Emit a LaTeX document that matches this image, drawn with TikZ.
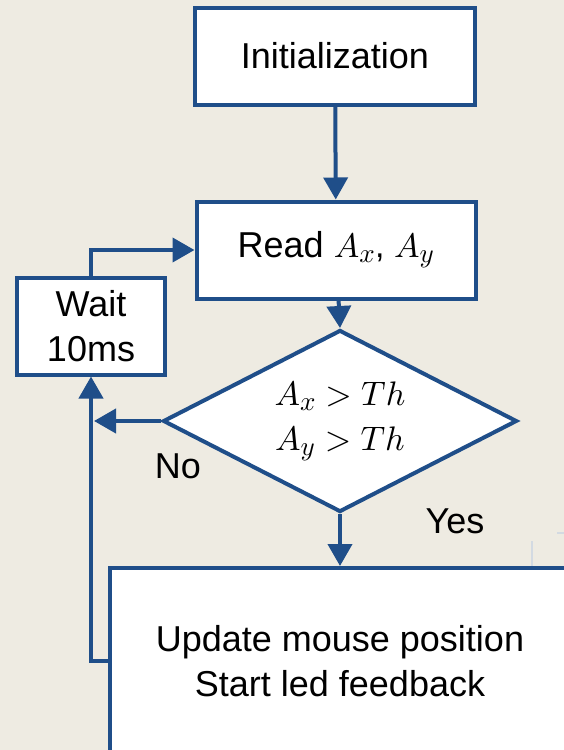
\documentclass[tikz,border=0pt]{standalone}
\usepackage{fontspec}
\setmainfont{Liberation Sans}
\DeclareFontShape{OML}{cmm}{m}{it}{<->cmmi10}{}
\DeclareFontShape{OMS}{cmsy}{m}{n}{<->cmsy10}{}
\DeclareMathSizes{34}{34}{27}{22}
\usetikzlibrary{arrows.meta,shapes.geometric}
\definecolor{flowblue}{HTML}{1F4E89}
\definecolor{bgbeige}{HTML}{EEEBE2}
\definecolor{faintline}{HTML}{D3DAE2}
\tikzset{
  x=1pt, y=-1pt,
  txt/.style={font=\fontsize{36}{45}\selectfont, align=center},
  mtxt/.style={font=\fontsize{34}{45}\selectfont, align=center},
  box/.style={txt, draw=flowblue, line width=4pt, fill=white, inner sep=0pt},
  decbox/.style={mtxt, shape=diamond, aspect=1.95, draw=flowblue, line width=4pt, fill=white, inner sep=0pt, minimum width=354pt, minimum height=182pt},
  conn/.style={draw=flowblue, line width=4pt, -{Triangle[length=22pt,width=24pt]}},
  lbl/.style={txt, inner sep=0pt}
}
\begin{document}
\begin{tikzpicture}
\useasboundingbox (0,0) rectangle (564,750);
\clip (0,0) rectangle (564,750);
\fill[bgbeige] (0,0) rectangle (564,750);

\draw[faintline, line width=1.5pt] (557,533) -- (564,533);
\draw[faintline, line width=1.5pt] (532,541) -- (532,566);

\node[box, minimum width=280pt, minimum height=97pt] (init) at (335,56) {Initialization};
\node[box, minimum width=279pt, minimum height=97pt] (read) at (336,250) {Read {\fontsize{34}{40}\selectfont$A_x$, $A_y$}};
\node[decbox] (dec) at (340,421) {$A_x > Th$\\$A_y > Th$};
\node[box, minimum width=148pt, minimum height=97pt] (wait) at (91,326) {Wait\\10ms};
\node[box, minimum width=460pt, minimum height=186pt] (upd) at (340,661) {Update mouse position\\Start led feedback};

\coordinate (noend) at (94,421);

\draw[conn] (init) -- (read);
\draw[conn] (read) -- (dec.north);
\draw[conn] (dec.south) -- (upd.north -| dec.south);
\draw[conn] (dec.west) -- (noend);
\draw[conn] (upd.west) -| (wait.south);
\draw[conn] (wait.north) |- (read.west);

\node[lbl] (nolbl) at (178,466) {No};
\node[lbl] (yeslbl) at (455,521) {Yes};
\end{tikzpicture}
\end{document}
